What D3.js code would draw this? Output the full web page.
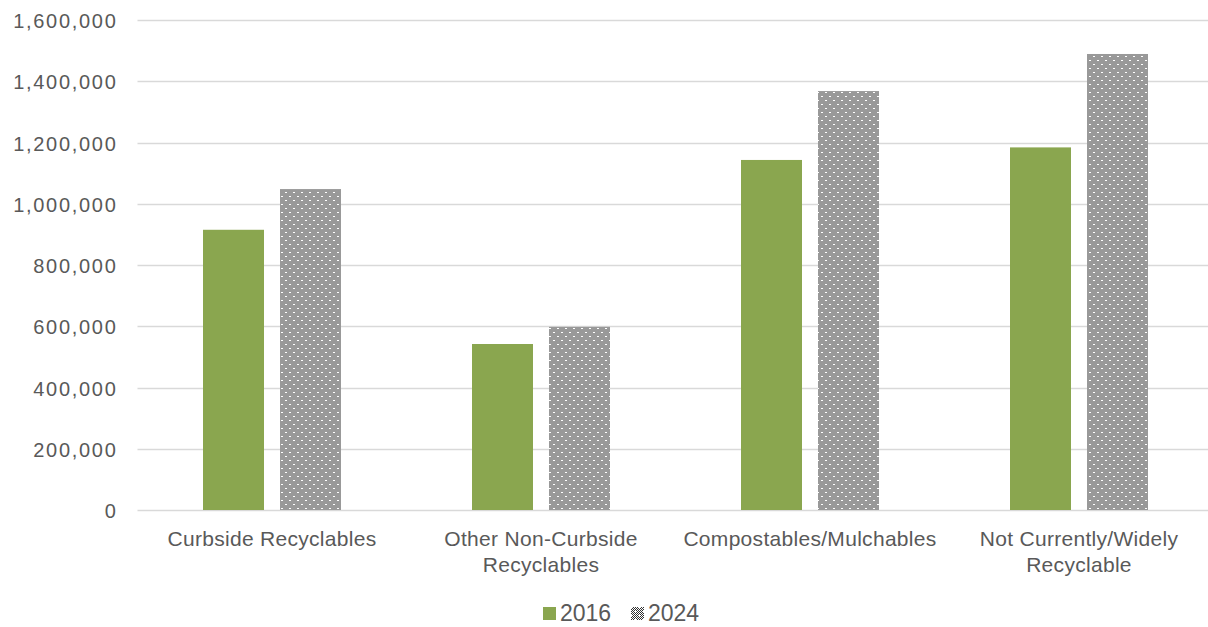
<!DOCTYPE html>
<html>
<head>
<meta charset="utf-8">
<script src="https://cdn.jsdelivr.net/npm/d3@7"></script>
<style>
  body { margin: 0; background: #fff; }
  #chart { width: 1208px; height: 627px; }
  text { font-family: "Liberation Sans", Arial, sans-serif; fill: #595959; }
</style>
</head>
<body>
<div id="chart"></div>
<script>
// chart data
const categories = [
    ["Curbside Recyclables"],
    ["Other Non-Curbside", "Recyclables"],
    ["Compostables/Mulchables"],
    ["Not Currently/Widely", "Recyclable"]
];
const seriesNames = ["2016", "2024"];
const values2016 = [915000, 542000, 1143000, 1184000];
const values2024 = [1048000, 598000, 1368000, 1489000];
const yTicks = [0, 200000, 400000, 600000, 800000, 1000000, 1200000, 1400000, 1600000];

const margin = { top: 20, right: 0, bottom: 117, left: 137.5 },
    width = 1076,
    height = 627 - margin.top - margin.bottom;

const svg = d3.select("#chart")
    .append("svg")
    .attr("width", 1208)
    .attr("height", 627);

// checker pattern for 2024 bars
const defs = svg.append("defs");
const pat = defs.append("pattern")
    .attr("id", "checker")
    .attr("patternUnits", "userSpaceOnUse")
    .attr("width", 8)
    .attr("height", 8);
pat.append("rect").attr("width", 8).attr("height", 8).attr("fill", "#fff");
for (let py = 0; py < 8; py++) {
    for (let px = 0; px < 8; px++) {
        if ((px + py) % 2 !== 0) continue;
        if ((px === 0 && py === 0) || (px === 4 && py === 4)) continue; // white spots
        pat.append("rect")
            .attr("x", px).attr("y", py)
            .attr("width", 1).attr("height", 1)
            .attr("fill", "#333");
    }
}

const g = svg.append("g")
    .attr("transform", `translate(${margin.left},${margin.top})`);

const x = d3.scaleBand()
    .domain(d3.range(categories.length))
    .range([0, width]);

const y = d3.scaleLinear()
    .domain([0, 1600000])
    .range([height, 0]);

const barW = 61, barGap = 16;
const xSub = d3.scaleOrdinal()
    .domain(seriesNames)
    .range([x.bandwidth() / 2 - barGap / 2 - barW, x.bandwidth() / 2 + barGap / 2]);

// gridlines
g.selectAll(".grid")
    .data(yTicks)
    .enter().append("line")
    .attr("x1", 0)
    .attr("x2", width)
    .attr("y1", d => Math.round(y(d)) + 0.5)
    .attr("y2", d => Math.round(y(d)) + 0.5)
    .attr("stroke", "#d9d9d9")
    .attr("stroke-width", 1.5);

// y labels
const fmt = d3.format(",");
g.selectAll(".ylab")
    .data(yTicks)
    .enter().append("text")
    .attr("x", -20)
    .attr("y", d => y(d) + 1)
    .attr("dy", "0.35em")
    .attr("text-anchor", "end")
    .style("font-size", "20px")
    .style("letter-spacing", "1.7px")
    .text(d => fmt(d));

const rows = categories.map((c, i) => ({ i, v2016: values2016[i], v2024: values2024[i] }));

// bars
g.selectAll(".b2016")
    .data(rows)
    .enter().append("rect")
    .attr("x", d => x(d.i) + xSub("2016"))
    .attr("y", d => y(d.v2016))
    .attr("width", barW)
    .attr("height", d => height - y(d.v2016))
    .attr("fill", "#8aa64f");

g.selectAll(".b2024")
    .data(rows)
    .enter().append("rect")
    .attr("x", d => x(d.i) + xSub("2024"))
    .attr("y", d => y(d.v2024))
    .attr("width", barW)
    .attr("height", d => height - y(d.v2024))
    .attr("fill", "url(#checker)");

// category labels
const cat = g.selectAll(".cat")
    .data(categories)
    .enter().append("text")
    .attr("text-anchor", "middle")
    .attr("x", (d, i) => x(i) + x.bandwidth() / 2)
    .attr("y", height + 36)
    .style("font-size", "21px")
    .style("letter-spacing", "0.3px");
cat.selectAll("tspan")
    .data(d => d)
    .enter().append("tspan")
    .attr("x", function () { return d3.select(this.parentNode).attr("x"); })
    .attr("dy", (d, i) => i === 0 ? 0 : 26)
    .text(d => d);

// legend
const legend = svg.append("g").attr("transform", "translate(543,607)");
legend.append("rect").attr("width", 13).attr("height", 13).attr("fill", "#8aa64f");
legend.append("text").attr("x", 17).attr("y", 14).style("font-size", "23px").text(seriesNames[0]);
legend.append("rect").attr("x", 88).attr("width", 13).attr("height", 13).attr("fill", "url(#checker)");
legend.append("text").attr("x", 105).attr("y", 14).style("font-size", "23px").text(seriesNames[1]);
</script>
</body>
</html>
